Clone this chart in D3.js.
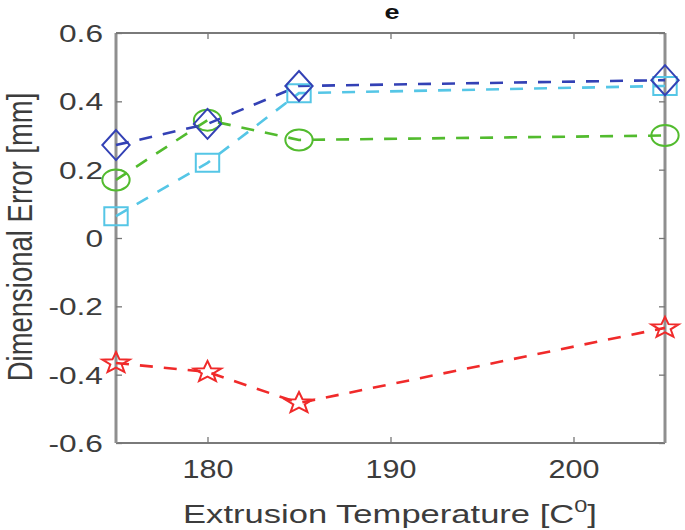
<!DOCTYPE html>
<html><head><meta charset="utf-8">
<script src="https://cdn.jsdelivr.net/npm/d3@7"></script>
<style>
body{margin:0;background:#fff;}
svg{display:block;font-family:"Liberation Sans",Arial,sans-serif;}
</style></head>
<body><svg id="c" width="685" height="530"></svg>
<script>
const temps = [175, 180, 185, 205];
const diamondVals = [0.272, 0.334, 0.445, 0.462];
const squareVals = [0.064, 0.220, 0.424, 0.445];
const circleVals = [0.170, 0.345, 0.287, 0.300];
const starVals = [-0.366, -0.392, -0.483, -0.263];
const xTicks = [180, 190, 200];
const yTicks = [-0.6, -0.4, -0.2, 0, 0.2, 0.4, 0.6];

const series = [
  {name:"square", vals:squareVals, color:"#55c6e6", marker:"square"},
  {name:"circle", vals:circleVals, color:"#52bb2e", marker:"circle"},
  {name:"diamond", vals:diamondVals, color:"#3341b5", marker:"diamond"},
  {name:"star", vals:starVals, color:"#f02a2a", marker:"star"}
];

const SX = 1.3; // horizontal stretch of the original figure
const svg = d3.select("#c");
const L=116, R=665, T=33, B=443;
const x = d3.scaleLinear().domain([175,205]).range([L,R]);
const y = d3.scaleLinear().domain([-0.6,0.6]).range([B,T]);
const axisColor = "#8f8f8f";
const textColor = "#3c3c3c";

// box
svg.append("line").attr("x1",L).attr("x2",R).attr("y1",T).attr("y2",T).attr("stroke","#7a7a7a").attr("stroke-width",2);
svg.append("line").attr("x1",L).attr("x2",R).attr("y1",B).attr("y2",B).attr("stroke","#7a7a7a").attr("stroke-width",2);
svg.append("line").attr("x1",L).attr("x2",L).attr("y1",T).attr("y2",B).attr("stroke",axisColor).attr("stroke-width",3);
svg.append("line").attr("x1",R).attr("x2",R).attr("y1",T).attr("y2",B).attr("stroke",axisColor).attr("stroke-width",3);

const fmtY = d => d===0 ? "0" : d3.format(".1f")(d).replace("\u2212","-");
const gx = svg.append("g").attr("transform",`translate(0,${B})`)
  .call(d3.axisBottom(x).tickValues(xTicks).tickSize(-6).tickFormat(d3.format("d")));
const gxt = svg.append("g").attr("transform",`translate(0,${T})`)
  .call(d3.axisTop(x).tickValues(xTicks).tickSize(-6).tickFormat(""));
const gy = svg.append("g").attr("transform",`translate(${L},0)`)
  .call(d3.axisLeft(y).tickValues(yTicks).tickSize(-6).tickFormat(fmtY));
const gyr = svg.append("g").attr("transform",`translate(${R},0)`)
  .call(d3.axisRight(y).tickValues(yTicks).tickSize(-6).tickFormat(""));
[gx,gxt,gy,gyr].forEach(g=>{
  g.select(".domain").remove();
  g.selectAll(".tick line").attr("stroke","#777").attr("stroke-width",1.3);
});
gx.selectAll(".tick text").attr("fill",textColor).attr("font-size",25)
  .attr("x",0).attr("y",0).attr("dy",0).attr("text-anchor","middle")
  .attr("transform",`translate(0,35) scale(1.22,1)`);
gy.selectAll(".tick text").attr("fill",textColor).attr("font-size",24)
  .attr("x",0).attr("dy","0.36em").attr("text-anchor","end")
  .attr("transform",`translate(-13,0) scale(1.32,1)`);

// lines
const line = d3.line().x((d,i)=>x(temps[i])).y(d=>y(d));
series.forEach(s=>{
  svg.append("path").datum(s.vals).attr("d",line).attr("fill","none")
    .attr("stroke",s.color).attr("stroke-width",2.6).attr("stroke-dasharray","13,11");
});

// markers
function markerPath(m){
  if(m==="circle") return d3.symbol().type(d3.symbolCircle).size(Math.PI*10.5*10.5)();
  if(m==="square") return "M-9,-9L9,-9L9,9L-9,9Z";
  if(m==="diamond") return "M0,-15L10.5,0L0,15L-10.5,0Z";
  const pts=[];
  for(let k=0;k<10;k++){
    const r = k%2===0 ? 11 : 4.6;
    const a = -Math.PI/2 + k*Math.PI/5;
    pts.push([r*Math.cos(a), r*Math.sin(a)]);
  }
  return "M"+pts.map(p=>p[0].toFixed(2)+","+p[1].toFixed(2)).join("L")+"Z";
}
series.forEach(s=>{
  const p = markerPath(s.marker);
  svg.append("g").selectAll("path").data(s.vals).join("path")
    .attr("d",p)
    .attr("transform",(d,i)=>`translate(${x(temps[i])},${y(d)}) scale(${SX},1)`)
    .attr("fill","none").attr("stroke",s.color).attr("stroke-width",2)
    .attr("vector-effect","non-scaling-stroke");
});

// title
svg.append("text").attr("transform","translate(392,19) scale(1.35,1)").attr("text-anchor","middle")
  .attr("font-size",20).attr("font-weight","bold").attr("fill","#111").text("e");

// y label
svg.append("text").attr("transform",`translate(32,237) scale(${SX},1) rotate(-90)`)
  .attr("text-anchor","middle").attr("font-size",27.5).attr("fill",textColor)
  .text("Dimensional Error [mm]");

// x label
const xl = svg.append("text").attr("text-anchor","middle")
  .attr("font-size",25).attr("fill",textColor);
xl.append("tspan").text("Extrusion Temperature [C");
xl.append("tspan").attr("font-size",17).attr("dy",-11).text("0");
xl.append("tspan").attr("dy",11).text("]");
const w = xl.node().getBBox().width;
xl.attr("transform",`translate(390,523) scale(${414/w},1)`);
</script></body></html>
